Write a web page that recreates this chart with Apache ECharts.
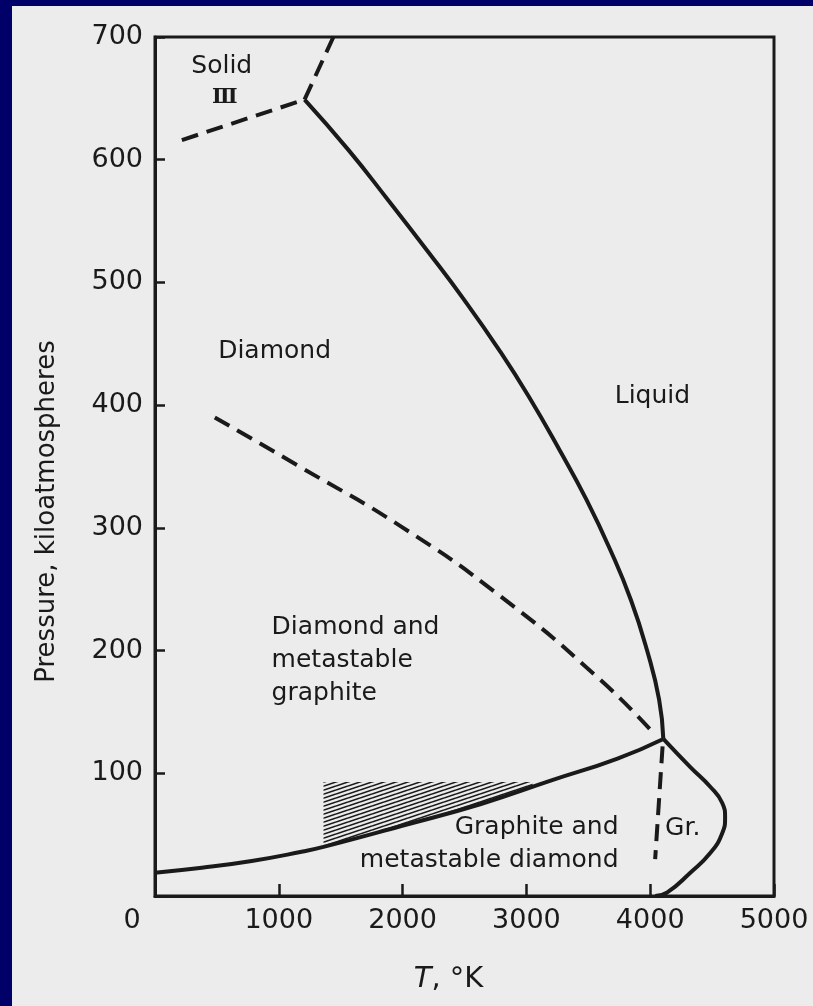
<!DOCTYPE html>
<html>
<head>
<meta charset="utf-8">
<script src="https://cdn.jsdelivr.net/npm/echarts@6/dist/echarts.min.js"></script>
<style>
html, body { margin: 0; padding: 0; width: 813px; height: 1006px; overflow: hidden; background: #000068; }
#main { position: absolute; left: 12px; top: 6px; width: 801px; height: 1000px; background: #ececec; }
</style>
</head>
<body>
<div id="main"></div>
<script>
// carbon phase diagram, T in K, P in kiloatmospheres
var solid3LowT = [217, 1208], solid3LowP = [616, 649];
var solid3UpT = [1208, 1441], solid3UpP = [649, 700];

var diaMeltT = [1208, 1562, 1884, 2198, 2496, 2786, 3019, 3270, 3485, 3678, 3845, 3975, 4072, 4106];
var diaMeltP = [649, 608, 567, 526, 486, 444, 407, 363, 323, 282, 241, 200, 160, 128];

var metaT = [483, 1184, 1989, 2794, 3599, 4042];
var metaP = [390, 349, 301, 244, 176, 131];

var grDiaT = [0, 378, 781, 1184, 1361, 1989, 2633, 3196, 3736, 4106];
var grDiaP = [19, 23, 28.5, 36, 40, 57, 75, 94, 112, 128];

var grMeltT = [4106, 4324, 4485, 4581, 4605, 4581, 4485, 4324, 4138, 4040];
var grMeltP = [128, 105, 89, 76, 64, 51, 35, 19, 3, 0];

var grDashT = [4100, 4040], grDashP = [122, 30];

var hatchT = [1361, 1989, 2633, 3050];
var hatchP = [39, 56, 74, 89];
var hatchTop = 93;

var labelText = ['Solid', 'Ⅲ', 'Diamond', 'Liquid', 'Diamond and\nmetastable\ngraphite', 'Graphite and\nmetastable diamond', 'Gr.'];
var labelT = [539, 564, 966, 4018, 942, 3744, 4120];
var labelP = [676, 651, 444, 407, 192, 42, 55];
var labelAlign = ['center', 'center', 'center', 'center', 'left', 'right', 'left'];

var ink = '#1a1a1a';
var font = 'DejaVu Sans';

function pairs(xs, ys) {
    return xs.map(function (x, i) { return [x, ys[i]]; });
}

function hatchPattern() {
    var c = document.createElement('canvas');
    c.width = 12; c.height = 4;
    var g = c.getContext('2d');
    g.strokeStyle = ink; g.lineWidth = 1.6;
    [-4, 0, 4].forEach(function (d) {
        g.beginPath(); g.moveTo(0, 4 + d); g.lineTo(12, d); g.stroke();
    });
    return c;
}

function lineSeries(xs, ys, dashed, smooth) {
    return {
        type: 'line',
        data: pairs(xs, ys),
        showSymbol: false,
        smooth: smooth || false,
        lineStyle: { color: ink, width: 4, type: dashed ? [17, 9] : 'solid', cap: 'butt' },
        silent: true
    };
}

var chart = echarts.init(document.getElementById('main'));

var labelData = labelText.map(function (t, i) {
    var isRoman = t === 'Ⅲ';
    return {
        value: [labelT[i], labelP[i]],
        label: {
            show: true,
            formatter: t,
            position: [0, 0],
            align: labelAlign[i],
            verticalAlign: 'middle',
            color: ink,
            fontFamily: isRoman ? 'DejaVu Serif' : font,
            fontWeight: isRoman ? 'bold' : 'normal',
            fontSize: isRoman ? 21 : 25,
            lineHeight: 33
        }
    };
});

var option = {
    animation: false,
    grid: { left: 143, right: 39, top: 31, bottom: 110, show: true, borderColor: ink, borderWidth: 3 },
    xAxis: {
        type: 'value', min: 0, max: 5000, interval: 1000,
        name: '{it|T}{n|, °K}',
        nameLocation: 'middle', nameGap: 69,
        nameTextStyle: {
            padding: [0, 32, 0, 0],
            rich: {
                it: { fontStyle: 'italic', fontSize: 29, fontFamily: font, color: ink },
                n: { fontSize: 29, fontFamily: font, color: ink }
            }
        },
        axisLine: { show: true, lineStyle: { color: ink, width: 3 } },
        axisTick: { show: true, inside: true, length: 12, lineStyle: { color: ink, width: 2.5 } },
        splitLine: { show: false },
        axisLabel: {
            margin: 11, color: ink, fontSize: 27, fontFamily: font,
            formatter: function (v) { return v === 0 ? '{z|0}' : String(v); },
            rich: { z: { padding: [0, 46, 0, 0], fontSize: 27, fontFamily: font, color: ink } }
        }
    },
    yAxis: {
        type: 'value', min: 0, max: 700, interval: 100,
        name: 'Pressure, kiloatmospheres',
        nameLocation: 'middle', nameGap: 95,
        nameTextStyle: { fontSize: 26, fontFamily: font, color: ink, padding: [0, 0, 0, -90] },
        axisLine: { show: true, lineStyle: { color: ink, width: 3 } },
        axisTick: { show: true, inside: true, length: 10, lineStyle: { color: ink, width: 2.5 } },
        splitLine: { show: false },
        axisLabel: {
            margin: 12, color: ink, fontSize: 27, fontFamily: font,
            formatter: function (v) { return v === 0 ? '' : String(v); }
        }
    },
    series: [
        {
            type: 'line',
            data: pairs(hatchT, hatchP),
            showSymbol: false,
            smooth: true,
            lineStyle: { width: 0 },
            areaStyle: { origin: hatchTop, color: { image: hatchPattern(), repeat: 'repeat' }, opacity: 1 },
            silent: true
        },
        lineSeries(solid3LowT, solid3LowP, true),
        lineSeries(solid3UpT, solid3UpP, true),
        lineSeries(diaMeltT, diaMeltP, false, true),
        lineSeries(metaT, metaP, true, true),
        lineSeries(grDiaT, grDiaP, false, true),
        lineSeries(grMeltT, grMeltP, false, true),
        lineSeries(grDashT, grDashP, true),
        {
            type: 'scatter',
            symbolSize: 0,
            itemStyle: { opacity: 1 },
            data: labelData,
            silent: true
        }
    ]
};

chart.setOption(option);
</script>
</body>
</html>
